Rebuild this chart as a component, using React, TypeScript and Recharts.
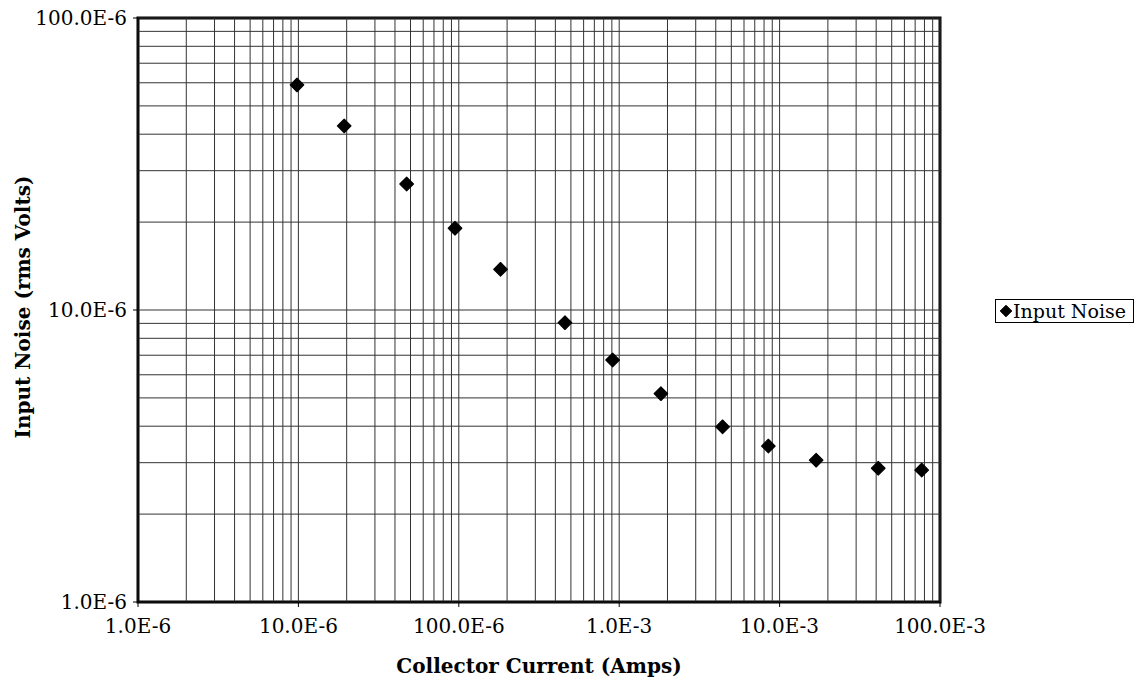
import React from 'react';
import { ScatterChart, Scatter, XAxis, YAxis, ReferenceLine, ReferenceArea } from 'recharts';

// Collector current (A) and measured input noise (V rms)
const collectorCurrent = [
  9.8e-6, 1.93e-5, 4.73e-5, 9.47e-5, 1.82e-4, 4.59e-4, 9.1e-4, 1.82e-3, 4.41e-3, 8.51e-3, 1.69e-2, 4.12e-2,
  7.69e-2,
];
const inputNoise = [
  5.9e-5, 4.27e-5, 2.7e-5, 1.905e-5, 1.378e-5, 9.05e-6, 6.74e-6, 5.17e-6, 3.98e-6, 3.42e-6, 3.06e-6, 2.87e-6,
  2.83e-6,
];

const xTicks = [1e-6, 1e-5, 1e-4, 1e-3, 1e-2, 1e-1];
const xTickLabels = ['1.0E-6', '10.0E-6', '100.0E-6', '1.0E-3', '10.0E-3', '100.0E-3'];
const yTicks = [1e-6, 1e-5, 1e-4];
const yTickLabels = ['1.0E-6', '10.0E-6', '100.0E-6'];

const seriesName = 'Input Noise';
const xTitle = 'Collector Current (Amps)';
const yTitle = 'Input Noise (rms Volts)';

const data = collectorCurrent.map((x, i) => ({ x, y: inputNoise[i] }));

// log-decade grid positions: 1..9 within each decade
const decadeGrid = (lo: number, hi: number) => {
  const out: number[] = [];
  for (let e = lo; e < hi; e++) {
    for (let m = 1; m <= 9; m++) out.push(Number((m * Math.pow(10, e)).toPrecision(3)));
  }
  out.push(Math.pow(10, hi));
  return out;
};
const xGrid = decadeGrid(-6, -1);
const yGrid = decadeGrid(-6, -4);

const FONT = '"DejaVu Serif", "Liberation Serif", serif';

const labelFor = (ticks: number[], labels: string[]) => (v: number) => {
  const i = ticks.findIndex((t) => Math.abs(Math.log10(t) - Math.log10(v)) < 1e-6);
  return i >= 0 ? labels[i] : '';
};

const diamondPath = (cx: number, cy: number, r: number) =>
  `M${cx},${cy - r} L${cx + r},${cy} L${cx},${cy + r} L${cx - r},${cy} Z`;

const Diamond = (props: any) => {
  const { cx, cy } = props;
  if (cx == null || cy == null) return null;
  return (
    <path d={diamondPath(cx, cy, 6.8)} fill="#000" stroke="#000" strokeWidth={1.2} strokeLinejoin="round" />
  );
};

export default function App() {
  return (
    <div style={{ position: 'absolute', left: 0, top: 0, background: '#fff' }}>
      <ScatterChart width={1138} height={685} margin={{ top: 18, right: 198, bottom: 43, left: 0 }}>
        <XAxis
          type="number"
          dataKey="x"
          scale="log"
          domain={[1e-6, 1e-1]}
          ticks={xTicks}
          tickFormatter={labelFor(xTicks, xTickLabels)}
          allowDataOverflow
          height={40}
          stroke="#000"
          tickSize={5}
          tickMargin={12}
          tick={{ fill: '#000', fontFamily: FONT, fontSize: 20 }}
          interval={0}
        />
        <YAxis
          type="number"
          dataKey="y"
          scale="log"
          domain={[1e-6, 1e-4]}
          ticks={yTicks}
          tickFormatter={labelFor(yTicks, yTickLabels)}
          allowDataOverflow
          width={138}
          stroke="#000"
          tickSize={5}
          tickMargin={6}
          tick={{ fill: '#000', fontFamily: FONT, fontSize: 20 }}
          interval={0}
        />
        {xGrid.map((v) => (
          <ReferenceLine key={`gx${v}`} x={v} stroke="#333" strokeWidth={1} />
        ))}
        {yGrid.map((v) => (
          <ReferenceLine key={`gy${v}`} y={v} stroke="#333" strokeWidth={1} />
        ))}
        <ReferenceArea x1={1e-6} x2={1e-1} y1={1e-6} y2={1e-4} fill="none" stroke="#000" strokeWidth={3} />
        <Scatter name={seriesName} data={data} shape={Diamond} isAnimationActive={false} />

        {/* series key */}
        <g>
          <rect x={995.5} y={299.5} width={138} height={23} fill="#fff" stroke="#000" strokeWidth={1} />
          <path d={diamondPath(1006, 311, 5.8)} fill="#000" stroke="#000" strokeWidth={1} strokeLinejoin="round" />
          <text x={1013} y={318} fontFamily={FONT} fontSize={19} fill="#000">
            {seriesName}
          </text>
        </g>

        <text x={539} y={673} textAnchor="middle" fontFamily={FONT} fontSize={20} fontWeight="bold" fill="#000">
          {xTitle}
        </text>
        <text
          transform="translate(30,307) rotate(-90)"
          textAnchor="middle"
          fontFamily={FONT}
          fontSize={20}
          fontWeight="bold"
          fill="#000"
        >
          {yTitle}
        </text>
      </ScatterChart>
    </div>
  );
}
